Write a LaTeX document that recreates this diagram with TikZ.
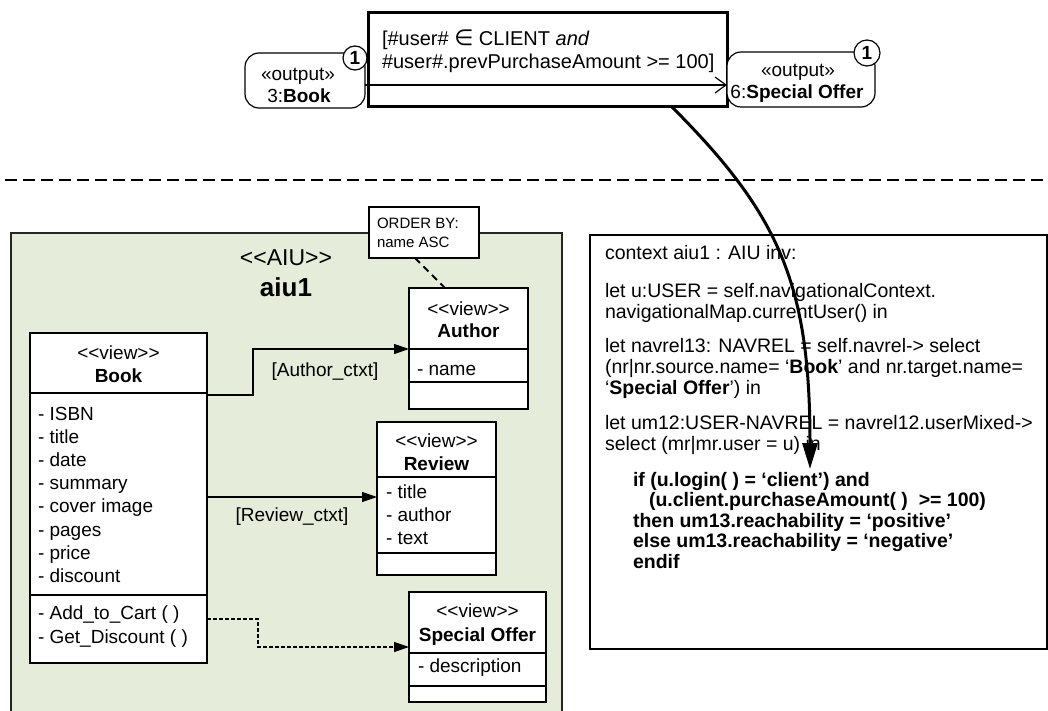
\documentclass[tikz,border=0pt]{standalone}
\usepackage{fontspec}
\setmainfont{Liberation Sans}[Ligatures=TeXOff]
\newfontfamily\dejavu{DejaVu Sans}
\usetikzlibrary{arrows.meta}
\definecolor{aiugreen}{RGB}{229,236,217}
\tikzset{
  umlbox/.style={draw, line width=1.2pt, fill=white, inner sep=0pt, outer sep=0pt, anchor=north west},
  tnine/.style={inner sep=0pt, outer sep=0pt, font=\fontsize{19}{23}\selectfont},
  lb/.style={tnine, anchor=base west},
  cb/.style={tnine, anchor=base},
  codeln/.style={inner sep=0pt, outer sep=0pt, anchor=base west, font=\fontsize{19.5}{23}\selectfont},
  codebf/.style={codeln, font=\fontsize{19.5}{23}\selectfont\bfseries},
  conn/.style={line width=1.2pt, -{Triangle[length=15pt,width=10pt]}},
  outnode/.style={draw, line width=1.2pt, rounded corners=14pt, fill=white, inner sep=0pt, outer sep=0pt, anchor=north west},
  mult/.style={circle, draw, line width=1.2pt, fill=white, inner sep=0pt, font=\fontsize{19}{19}\selectfont\bfseries}
}
\begin{document}
\begin{tikzpicture}[x=1pt,y=-1pt]
\useasboundingbox (0,0) rectangle (1048,711);
\fill[white] (0,0) rectangle (1048,711);

% ---------- top: guard and outputs ----------
\node[draw, line width=3pt, minimum width=359pt, minimum height=94pt, anchor=north west, inner sep=0pt, outer sep=0pt] (guard) at (368,13) {};
\node[lb, font=\fontsize{20}{23}\selectfont] (g1) at (382,46) {[\#user\# {\dejavu\fontsize{22}{23}\selectfont ∈} CLIENT \textit{and}};
\node[lb, font=\fontsize{20}{23}\selectfont] (g2) at (382,69) {\#user\#.prevPurchaseAmount >= 100]};

\node[outnode, minimum width=120pt, minimum height=55pt] (ob) at (245,53) {};
\node[cb] (ob1) at (298,81) {«output»};
\node[cb] (ob2) at (299,103) {3:\textbf{Book}};

\node[outnode, minimum width=148pt, minimum height=55pt] (oso) at (727,52) {};
\node[cb] (os1) at (798,77) {«output»};
\node[cb] (os2) at (797,99) {6:\textbf{Special Offer}};

\draw[line width=1.2pt, -{Straight Barb[length=11pt,width=16pt]}] ([yshift=-32pt]ob.north east) -- ([yshift=-33pt]oso.north west);

\node[mult, minimum size=24pt] (m1) at (355,58) {1};
\node[mult, minimum size=26pt] (m2) at (867,53) {1};

% ---------- separator ----------
\draw[line width=2.5pt, dash pattern=on 12pt off 6pt] (5,180) -- (1048,180);

% ---------- AIU ----------
\node[draw=black!85, line width=1.2pt, fill=aiugreen, minimum width=551pt, minimum height=490pt, anchor=north west, inner sep=0pt, outer sep=0pt] (aiu) at (11,233) {};
\node[cb, font=\fontsize{23}{23}\selectfont] (aiust) at (286,265) {<<AIU>>};
\node[cb, font=\fontsize{26}{26}\selectfont\bfseries] (aiuname) at (286,296) {aiu1};

% note
\node[umlbox, line width=1.8pt, minimum width=110pt, minimum height=51pt] (note) at (369,207) {};
\node[lb, font=\fontsize{15}{18}\selectfont] (note1) at (377,229) {ORDER BY:};
\node[lb, font=\fontsize{15}{18}\selectfont] (note2) at (377,247.5) {name ASC};

% Author
\node[umlbox, minimum width=119pt, minimum height=121pt] (author) at (409,288) {};
\draw[line width=1.2pt] ([yshift=-61pt]author.north west) -- ([yshift=-61pt]author.north east);
\draw[line width=1.2pt] ([yshift=-94pt]author.north west) -- ([yshift=-94pt]author.north east);
\node[cb] (au1) at (468.5,315) {<<view>>};
\node[cb, font=\fontsize{19}{23}\selectfont\bfseries] (au2) at (468.5,337) {Author};
\node[lb] (au3) at (417,375) {- name};

\draw[line width=1.8pt, dash pattern=on 7pt off 5pt] ([xshift=46pt]note.south west) -- ([xshift=36pt]author.north west);

% Book
\node[umlbox, minimum width=177pt, minimum height=330pt] (book) at (30,333) {};
\draw[line width=1.2pt] ([yshift=-60pt]book.north west) -- ([yshift=-60pt]book.north east);
\draw[line width=1.2pt] ([yshift=-262pt]book.north west) -- ([yshift=-262pt]book.north east);
\node[cb] (bk1) at (118.5,359) {<<view>>};
\node[cb, font=\fontsize{19}{23}\selectfont\bfseries] (bk2) at (118.5,382) {Book};
\foreach \t [count=\i] in {- ISBN, - title, - date, - summary, - cover image, - pages, - price, - discount}
  \node[lb, name=ba\i] at (38,{420+23.2*(\i-1)}) {\t};
\node[lb] (bm1) at (38,619) {- Add\_to\_Cart ( )};
\node[lb] (bm2) at (38,643) {- Get\_Discount ( )};

% Review
\node[umlbox, minimum width=119pt, minimum height=153pt] (review) at (377,422) {};
\draw[line width=1.2pt] ([yshift=-55pt]review.north west) -- ([yshift=-55pt]review.north east);
\draw[line width=1.2pt] ([yshift=-131pt]review.north west) -- ([yshift=-131pt]review.north east);
\node[cb] (rv1) at (436.5,447) {<<view>>};
\node[cb, font=\fontsize{19}{23}\selectfont\bfseries] (rv2) at (436.5,470) {Review};
\node[lb] (rv3) at (386,498) {- title};
\node[lb] (rv4) at (386,521) {- author};
\node[lb] (rv5) at (386,544) {- text};

% Special Offer
\node[umlbox, minimum width=137pt, minimum height=110pt] (so) at (409,592) {};
\draw[line width=1.2pt] ([yshift=-61pt]so.north west) -- ([yshift=-61pt]so.north east);
\draw[line width=1.2pt] ([yshift=-94pt]so.north west) -- ([yshift=-94pt]so.north east);
\node[cb] (so1) at (477.5,617) {<<view>>};
\node[cb, font=\fontsize{19}{23}\selectfont\bfseries] (so2) at (477.5,641) {Special Offer};
\node[lb] (so3) at (418,672) {- description};

% connectors
\draw[conn] ([yshift=-62pt]book.north east) -- ++(46,0) |- ([yshift=-61pt]author.north west);
\node[cb] (lab1) at (325,376) {[Author\_ctxt]};
\draw[conn] ([yshift=-164pt]book.north east) -- ([yshift=-75pt]review.north west);
\node[cb] (lab2) at (292,521) {[Review\_ctxt]};
\draw[conn, dash pattern=on 4pt off 2pt] ([yshift=-286pt]book.north east) -- ++(51,0) |- ([yshift=-55pt]so.north west);

% ---------- OCL code ----------
\node[umlbox, minimum width=457pt, minimum height=414pt] (code) at (590,235) {};
\node[codeln] (c1) at (605,259) {context aiu1 : AIU inv:};
\node[codeln] (c2) at (605,297) {let u:USER = self.navigationalContext.};
\node[codeln] (c3) at (605,318) {navigationalMap.currentUser() in};
\node[codeln] (c4) at (605,352) {let navrel13: NAVREL = self.navrel-> select};
\node[codeln] (c5) at (605,373) {(nr|nr.source.name= ‘\textbf{Book}’ and nr.target.name=};
\node[codeln] (c6) at (605,394) {‘\textbf{Special Offer}’) in};
\node[codeln] (c7) at (605,429) {let um12:USER-NAVREL = navrel12.userMixed->};
\node[codeln] (c8) at (605,450) {select (mr|mr.user = u) in};
\node[codebf] (c9) at (633,486) {if (u.login( ) = ‘client’) and};
\node[codebf] (c10) at (649,506.5) {(u.client.purchaseAmount( )~ >= 100)};
\node[codebf] (c11) at (633,527) {then um13.reachability = ‘positive’};
\node[codebf] (c12) at (633,547.5) {else um13.reachability = ‘negative’};
\node[codebf] (c13) at (633,568) {endif};

% ---------- curved arrow ----------
\coordinate (ce) at (810,469);
\draw[line width=3pt, -{Triangle[length=26pt,width=15pt]}] ([xshift=304pt]guard.south west) .. controls (780,215) and (810,285) .. (ce);
\end{tikzpicture}
\end{document}
